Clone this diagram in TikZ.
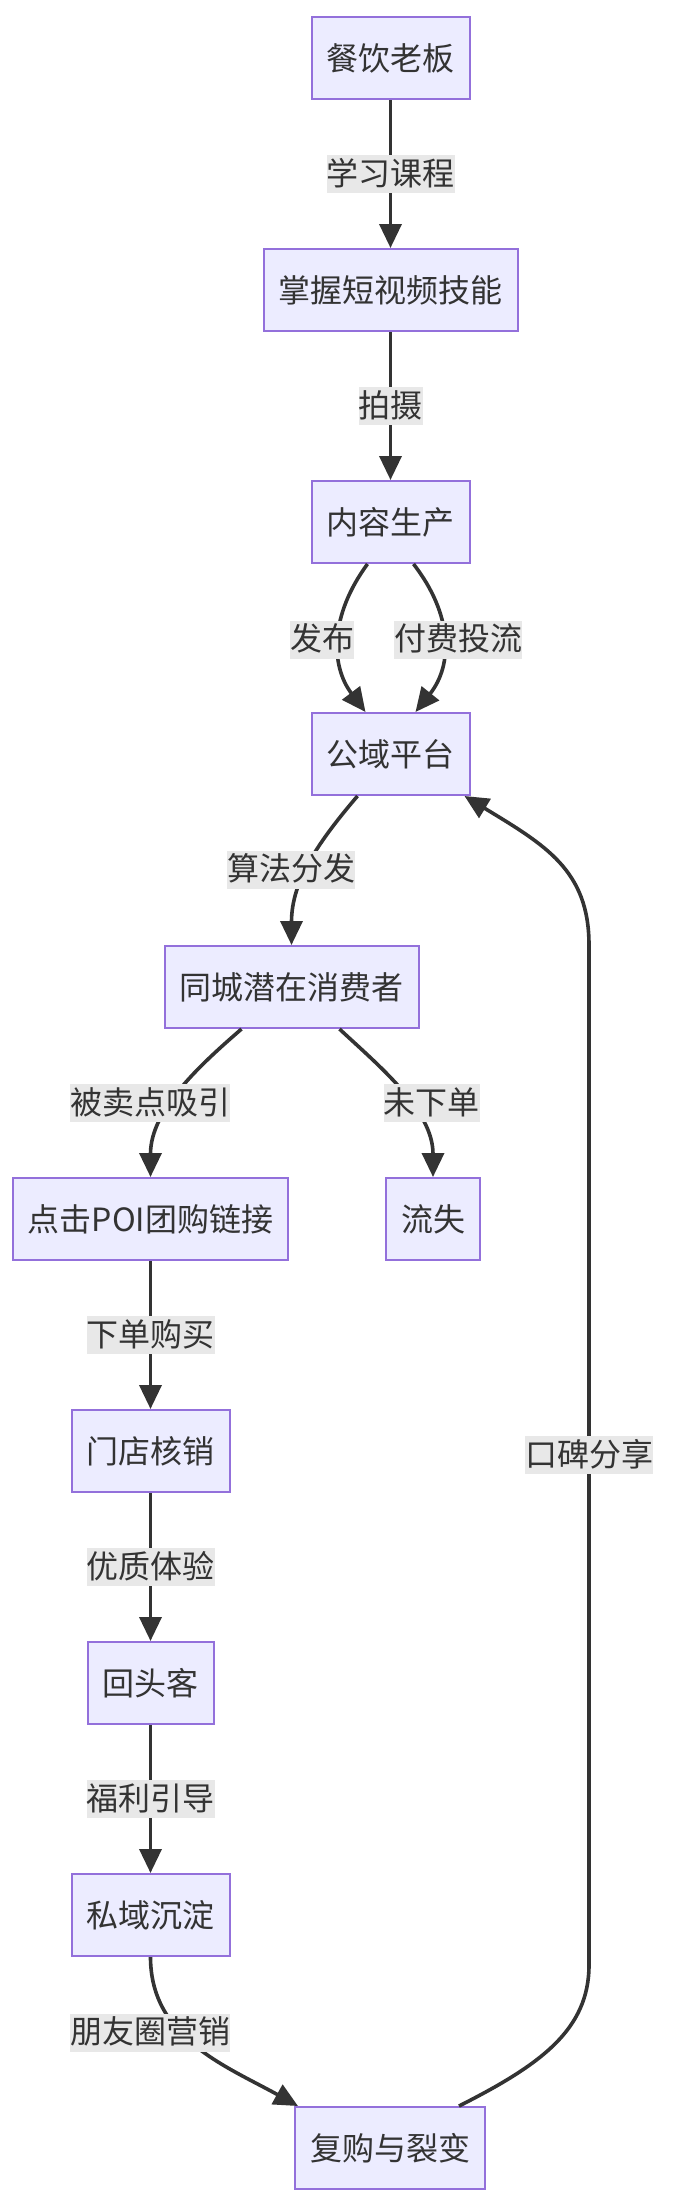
\documentclass[tikz,border=0pt]{standalone}
\usepackage{fontspec}
\usepackage{tikz}
\usetikzlibrary{arrows.meta,positioning}
\newfontfamily\cjk{Noto Sans CJK SC}
\definecolor{boxfill}{HTML}{ECECFF}
\definecolor{boxline}{HTML}{9370DB}
\definecolor{ink}{HTML}{333333}
\definecolor{tagfill}{HTML}{E8E8E8}

\begin{document}
\begin{tikzpicture}[
    x=1pt, y=1pt,
    font=\cjk\fontsize{32}{38}\selectfont,
    >={Triangle[length=24pt,width=22pt]},
    stage/.style={
      draw=boxline,
      fill=boxfill,
      line width=2pt,
      text=ink,
      minimum height=82pt,
      inner xsep=15pt
    },
    flow/.style={->, line width=3.6pt, draw=ink},
    flowlabel/.style={
      fill=tagfill,
      text=ink,
      inner xsep=0pt,
      inner ysep=3pt,
      text height=27pt,
      text depth=5pt
    }
  ]
    \useasboundingbox (0,0) rectangle (672,-2206);

    % main column
    \node[stage] (boss) at (390.5,-58) {餐饮老板};
    \node[stage, below=148pt of boss] (skill) {掌握短视频技能};
    \node[stage, below=148pt of skill] (content) {内容生产};
    \node[stage, below=148pt of content] (platform) {公域平台};
    \node[stage] (locals) at (291.5,-987) {同城潜在消费者};
    \node[stage] (poi) at (150.5,-1219) {点击POI团购链接};
    \node[stage] (lost) at (433,-1219) {流失};
    \node[stage, below=148pt of poi] (store) {门店核销};
    \node[stage, below=148pt of store] (regular) {回头客};
    \node[stage, below=148pt of regular] (private) {私域沉淀};
    \node[stage] (rebuy) at (390,-2148) {复购与裂变};

    \draw[flow] (boss) -- node[flowlabel] (t1) {学习课程} (skill);
    \draw[flow] (skill) -- node[flowlabel] (t2) {拍摄} (content);
    \draw[flow] ([xshift=-23pt]content.south) .. controls (330,-615) and (330,-665)
      .. node[flowlabel, xshift=-17pt] (t3) {发布} ([xshift=-25pt]platform.north);
    \draw[flow] ([xshift=23pt]content.south) .. controls (453,-615) and (453,-665)
      .. node[flowlabel, xshift=15pt] (t4) {付费投流} ([xshift=25pt]platform.north);
    \draw[flow] ([xshift=-33pt]platform.south) .. controls (320,-840) and (291.5,-880)
      .. node[flowlabel, xshift=-19pt, yshift=-7pt] (t5) {算法分发} (locals.north);
    \draw[flow] ([xshift=-50pt]locals.south) .. controls (200,-1065) and (150.5,-1110)
      .. node[flowlabel, xshift=-30pt, yshift=-12pt] (t6) {被卖点吸引} (poi.north);
    \draw[flow] ([xshift=48pt]locals.south) .. controls (378,-1065) and (433,-1110)
      .. node[flowlabel, xshift=31pt, yshift=-12pt] (t7) {未下单} (lost.north);
    \draw[flow] (poi) -- node[flowlabel] (t8) {下单购买} (store);
    \draw[flow] (store) -- node[flowlabel] (t9) {优质体验} (regular);
    \draw[flow] (regular) -- node[flowlabel] (t10) {福利引导} (private);
    \draw[flow] (private.south) .. controls (150.5,-2038) and (226,-2066)
      .. node[flowlabel, xshift=-47pt, yshift=14pt] (t11) {朋友圈营销} ([xshift=-92pt]rebuy.north);

    % word of mouth loops back up
    \draw[flow] ([xshift=69pt]rebuy.north) .. controls (540,-2065) and (589,-2030) .. (589,-1965)
      -- node[flowlabel] (t12) {口碑分享} (589,-945)
      .. controls (589,-870) and (545,-845) .. ([xshift=-6pt]platform.south east);
  \end{tikzpicture}
\end{document}
